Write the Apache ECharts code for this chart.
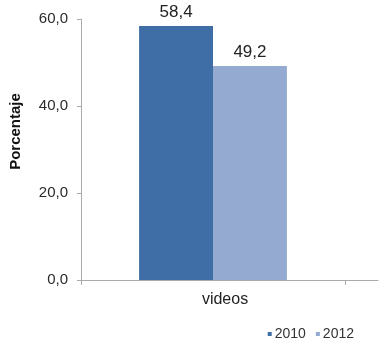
<!DOCTYPE html>
<html>
<head>
<meta charset="utf-8">
<style>
  html, body { margin: 0; padding: 0; background: #fff; }
  #chart { width: 380px; height: 341px; }
</style>
<script src="https://cdn.jsdelivr.net/npm/echarts@6/dist/echarts.min.js"></script>
</head>
<body>
<div id="chart"></div>
<script>
// Share of users (%) by year
const categories = ['videos'];
const years = ['2010', '2012'];
const values2010 = [58.4];
const values2012 = [49.2];
const yTicks = [0, 20, 40, 60];

const colors = ['#3f6ea6', '#94aad1'];
const fmt = v => v.toFixed(1).replace('.', ',');

const chart = echarts.init(document.getElementById('chart'), null, { renderer: 'canvas' });

chart.setOption({
  animation: false,
  textStyle: { fontFamily: 'Liberation Sans, Arial, sans-serif' },
  grid: [
    { left: 81, right: 35, top: 19, bottom: 61, containLabel: false },
    { left: 81, right: 2, top: 19, bottom: 61, containLabel: false }
  ],
  legend: {
    data: years,
    right: 21,
    top: 322,
    itemWidth: 4,
    itemHeight: 4,
    itemGap: 10,
    icon: 'rect',
    textStyle: { fontSize: 14, color: '#333', padding: [0, 0, 0, -2] }
  },
  xAxis: [
    {
      gridIndex: 0,
      type: 'category',
      data: categories,
      axisLine: { show: false },
      axisTick: { show: true, length: 5, lineStyle: { color: '#aaa' } },
      axisLabel: { fontSize: 16, color: '#222', margin: 12, padding: [0, 0, 0, 24] }
    },
    {
      gridIndex: 1,
      type: 'value',
      min: 0,
      max: 1,
      axisLine: { show: true, lineStyle: { color: '#aaa', width: 1 } },
      axisTick: { show: false },
      axisLabel: { show: false },
      splitLine: { show: false }
    }
  ],
  yAxis: [
    {
      gridIndex: 0,
      type: 'value',
      min: yTicks[0],
      max: yTicks[yTicks.length - 1],
      interval: 20,
      name: 'Porcentaje',
      nameLocation: 'middle',
      nameGap: 58,
      nameTextStyle: { fontSize: 15, fontWeight: 'bold', color: '#111', padding: [0, 0, 0, 36] },
      axisLine: { show: true, lineStyle: { color: '#aaa', width: 1 } },
      axisTick: { show: true, length: 4, lineStyle: { color: '#aaa' } },
      axisLabel: { fontSize: 15, color: '#2a2a2a', margin: 13, formatter: v => fmt(v) },
      splitLine: { show: false }
    },
    {
      gridIndex: 1,
      type: 'value',
      show: false,
      min: 0,
      max: 1
    }
  ],
  series: [
    {
      name: years[0],
      type: 'bar',
      xAxisIndex: 0,
      yAxisIndex: 0,
      data: values2010,
      barWidth: '28%',
      barGap: '0%',
      itemStyle: { color: colors[0] },
      label: { show: true, position: 'top', distance: 5, fontSize: 17, color: '#222', formatter: p => fmt(p.value) }
    },
    {
      name: years[1],
      type: 'bar',
      xAxisIndex: 0,
      yAxisIndex: 0,
      data: values2012,
      barWidth: '28%',
      barGap: '0%',
      itemStyle: { color: colors[1] },
      label: { show: true, position: 'top', distance: 5, fontSize: 17, color: '#222', formatter: p => fmt(p.value) }
    }
  ]
});
</script>
</body>
</html>
